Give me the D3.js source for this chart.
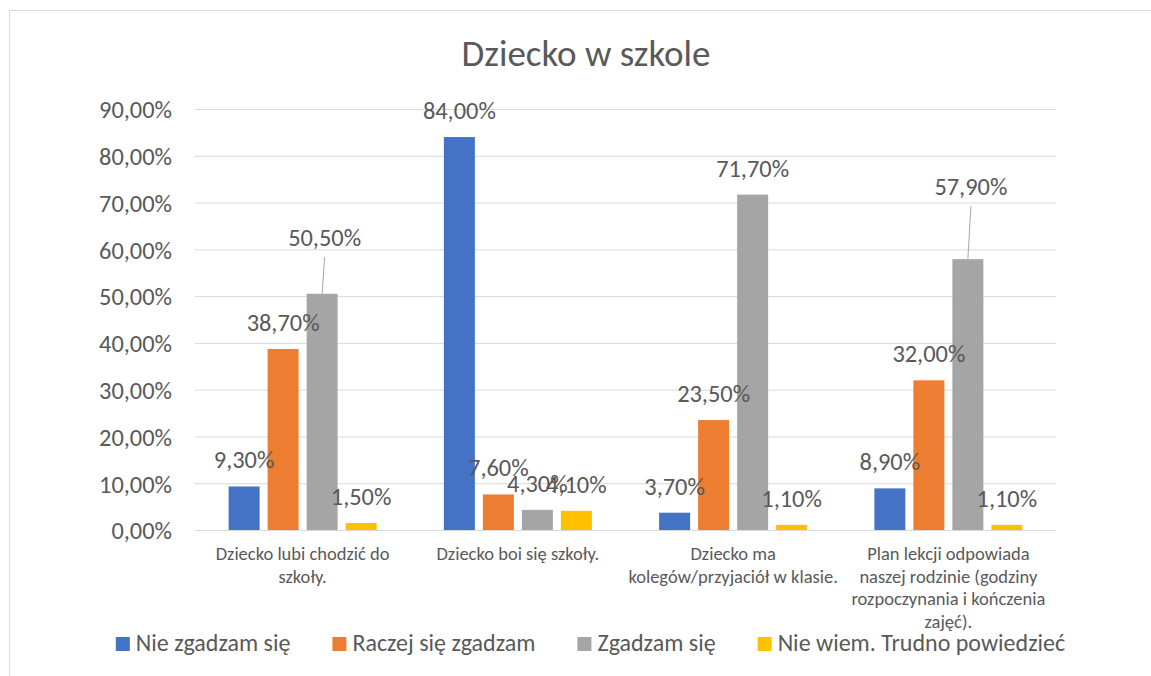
<!DOCTYPE html>
<html>
<head>
<meta charset="utf-8">
<script src="https://cdn.jsdelivr.net/npm/d3@7"></script>
<style>
  html, body { margin: 0; padding: 0; background: #fff; }
  svg { display: block; font-family: Carlito, Lato, "Noto Sans", sans-serif; }
</style>
</head>
<body>
<svg id="chart" width="1151" height="676"></svg>
<script>
// ---- data ----
const title = "Dziecko w szkole";
const categories = [
  "Dziecko lubi chodzić do szkoły.",
  "Dziecko boi się szkoły.",
  "Dziecko ma kolegów/przyjaciół w klasie.",
  "Plan lekcji odpowiada naszej rodzinie (godziny rozpoczynania i kończenia zajęć)."
];
const seriesNames = ["Nie zgadzam się", "Raczej się zgadzam", "Zgadzam się", "Nie wiem. Trudno powiedzieć"];
const nieZgadzam   = [9.3, 84.0, 3.7, 8.9];
const raczejZgadzam = [38.7, 7.6, 23.5, 32.0];
const zgadzam      = [50.5, 4.3, 71.7, 57.9];
const nieWiem      = [1.5, 4.1, 1.1, 1.1];
const seriesValues = [nieZgadzam, raczejZgadzam, zgadzam, nieWiem];
const yTicks = [0, 10, 20, 30, 40, 50, 60, 70, 80, 90];

// ---- styles / layout ----
const colors = ["#4472C4", "#ED7D31", "#A5A5A5", "#FFC000"];
const textColor = "#595959";
const gridColor = "#D9D9D9";
// manually moved data labels (category index, series index, dx, dy) with leader lines
const labelNudges = [
  { c: 0, s: 2, dx: 2.5, dy: -30 },
  { c: 3, s: 2, dx: 3, dy: -46 }
];

const svg = d3.select("#chart");
const fmt = v => v.toFixed(2).replace(".", ",") + "%";

// chart border
svg.append("rect")
  .attr("x", 9.5).attr("y", 10.5).attr("width", 1300).attr("height", 800)
  .attr("fill", "none").attr("stroke", gridColor).attr("stroke-width", 1);

const plot = { left: 195, right: 1056, top: 109, bottom: 530 };

const y = d3.scaleLinear().domain([0, 90]).range([plot.bottom, plot.top]);
const x0 = d3.scaleBand().domain(d3.range(categories.length)).range([plot.left, plot.right]).padding(0);
const x1 = d3.scaleBand().domain(d3.range(seriesNames.length)).range([0, x0.bandwidth()])
  .paddingInner(8 / 39).paddingOuter(0.862);

// title
svg.append("text")
  .attr("x", 586).attr("y", 66)
  .attr("text-anchor", "middle")
  .attr("fill", textColor)
  .style("font-size", "37px")
  .text(title);

// gridlines
const yAxis = d3.axisLeft(y).tickValues(yTicks).tickSize(-(plot.right - plot.left)).tickFormat(fmt).tickPadding(23);
const gAxis = svg.append("g").attr("transform", `translate(${plot.left},0)`).call(yAxis);
gAxis.select(".domain").remove();
gAxis.selectAll(".tick line").attr("stroke", gridColor).attr("stroke-width", 1);
gAxis.selectAll(".tick text")
  .attr("fill", textColor)
  .style("font-size", "24.4px")
  .style("font-family", "Carlito, Lato, sans-serif")
  .attr("dy", "0.36em");

// bars
const flat = [];
categories.forEach((c, ci) => {
  seriesValues.forEach((vals, si) => flat.push({ ci, si, v: vals[ci] }));
});

svg.append("g").selectAll("rect").data(flat).join("rect")
  .attr("x", d => x0(d.ci) + x1(d.si))
  .attr("y", d => y(d.v))
  .attr("width", x1.bandwidth())
  .attr("height", d => y(0) - y(d.v))
  .attr("fill", d => colors[d.si]);

// leader lines + labels
const nudgeOf = d => labelNudges.find(n => n.c === d.ci && n.s === d.si);
const gLabels = svg.append("g");
flat.forEach(d => {
  const cx = x0(d.ci) + x1(d.si) + x1.bandwidth() / 2;
  const top = y(d.v);
  const n = nudgeOf(d);
  const lx = cx + (n ? n.dx : 0);
  const ly = top - 18 + (n ? n.dy : 0);
  if (n) {
    gLabels.append("line")
      .attr("x1", lx).attr("y1", ly + 11)
      .attr("x2", cx).attr("y2", top)
      .attr("stroke", "#A6A6A6").attr("stroke-width", 1);
  }
  gLabels.append("text")
    .attr("x", lx).attr("y", ly)
    .attr("text-anchor", "middle")
    .attr("fill", textColor)
    .style("font-size", "24.4px")
    .text(fmt(d.v));
});

// category labels (wrapped)
const maxW = 210;
const gCat = svg.append("g");
categories.forEach((c, ci) => {
  const cx = x0(ci) + x0.bandwidth() / 2;
  const t = gCat.append("text")
    .attr("text-anchor", "middle")
    .attr("fill", textColor)
    .style("font-size", "18.5px");
  const words = c.split(" ");
  let lines = [], cur = [];
  const probe = t.append("tspan");
  words.forEach(w => {
    const test = cur.concat([w]).join(" ");
    probe.text(test);
    if (probe.node().getComputedTextLength() > maxW && cur.length) {
      lines.push(cur.join(" "));
      cur = [w];
    } else cur.push(w);
  });
  lines.push(cur.join(" "));
  probe.remove();
  lines.forEach((ln, i) => {
    t.append("tspan").attr("x", cx).attr("y", 560 + i * 22.7).text(ln);
  });
});

// legend
const gLeg = svg.append("g");
const legFont = 24, sq = 14, sqGap = 6, itemGap = 42;
const items = seriesNames.map((name, i) => {
  const g = gLeg.append("g");
  g.append("rect").attr("width", sq).attr("height", sq).attr("y", -sq).attr("fill", colors[i]);
  const tx = g.append("text").attr("x", sq + sqGap).attr("y", 0)
    .attr("fill", textColor).style("font-size", legFont + "px").text(name);
  const w = sq + sqGap + tx.node().getComputedTextLength();
  return { g, w };
});
const total = d3.sum(items, d => d.w) + itemGap * (items.length - 1);
let lx = 590.5 - total / 2;
items.forEach(it => {
  it.g.attr("transform", `translate(${lx},651)`);
  lx += it.w + itemGap;
});
</script>
</body>
</html>
